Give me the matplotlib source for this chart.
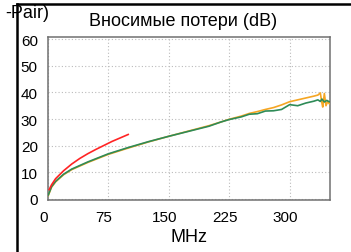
import matplotlib
matplotlib.use("Agg")
import matplotlib.pyplot as plt
from matplotlib.lines import Line2D
import matplotlib.transforms as mtransforms

plt.rcParams['font.family'] = ['Liberation Sans', 'DejaVu Sans']

# Data
red_f = [2, 5, 10, 20, 30, 40, 50, 60, 70, 80, 90, 100]
red_db = [3.5, 5.3, 7.6, 10.6, 13.1, 15.2, 17.0, 18.6, 20.1, 21.6, 22.9, 24.2]

green_f = [1, 5, 10, 20, 30, 50, 75, 100, 125, 150, 175, 200, 215, 225, 240,
           250, 260, 270, 280, 290, 300, 310, 320, 330, 335, 338, 340, 343, 346, 349]
green_db = [1.5, 4.6, 6.6, 9.3, 11.2, 13.9, 16.9, 19.3, 21.5, 23.5, 25.4, 27.3, 28.9,
            29.8, 30.8, 31.8, 32.0, 33.0, 33.1, 33.6, 35.4, 35.0, 36.0, 36.7, 37.2,
            36.6, 37.5, 36.4, 37.0, 36.5]

orange_f = [1, 5, 10, 20, 30, 50, 75, 100, 125, 150, 175, 200, 215, 225, 240,
            250, 260, 270, 280, 290, 300, 310, 320, 330, 335, 338, 340, 341, 343, 345, 347, 349]
orange_db = [1.3, 4.4, 6.4, 9.1, 11.0, 13.7, 16.7, 19.1, 21.4, 23.5, 25.5, 27.5, 28.9,
             29.9, 31.1, 32.1, 32.8, 33.6, 34.3, 35.3, 36.5, 37.2, 37.9, 38.6, 39.0,
             39.8, 36.0, 34.5, 39.6, 35.0, 36.5, 35.8]

x_ticks = [0, 75, 150, 225, 300]
y_ticks = [0, 10, 20, 30, 40, 50, 60]

W, H = 351, 253
fig = plt.figure(figsize=(W / 100, H / 100), dpi=100)
ax = fig.add_axes([47.5 / W, 1 - 201 / H, (330 - 47.5) / W, (201 - 38) / H])

ax.plot(orange_f, orange_db, color='#f5a623', lw=1.2, zorder=3)
ax.plot(green_f, green_db, color='#2e8b57', lw=1.2, zorder=4)
ax.plot(red_f, red_db, color='#ff2424', lw=1.2, zorder=5)

ax.set_xlim(0, 350)
ax.set_ylim(-0.4, 60.8)
ax.set_xticks(x_ticks)
ax.set_yticks(y_ticks)
ax.grid(True, linestyle=(0, (1, 2)), color='#bbbbbb', linewidth=0.8)
ax.tick_params(length=0, labelsize=11, colors='black')
ax.tick_params(axis='y', pad=7)
ax.tick_params(axis='x', pad=7)
for s in ax.spines.values():
    s.set_color('#707070')
    s.set_linewidth(1.1)

offset = mtransforms.ScaledTranslation(-4 / 100, 0, fig.dpi_scale_trans)
for lab in ax.get_xticklabels():
    lab.set_transform(lab.get_transform() + offset)

ax.set_xlabel('MHz', fontsize=13, labelpad=3)

fig.text(183 / W, 1 - 21 / H, 'Вносимые потери (dB)', ha='center', va='center', fontsize=13)

# frame lines of the cropped surrounding
fig.add_artist(Line2D([17 / W, 17 / W], [0, 1 - 5 / H], transform=fig.transFigure,
                      color='black', lw=1.8))
fig.add_artist(Line2D([17 / W, 1], [1 - 5 / H, 1 - 5 / H], transform=fig.transFigure,
                      color='black', lw=1.8))
fig.text(49 / W, 1 - 13 / H, '-Pair)', ha='right', va='center', fontsize=13, zorder=10)

fig.savefig('out.png', dpi=100)
